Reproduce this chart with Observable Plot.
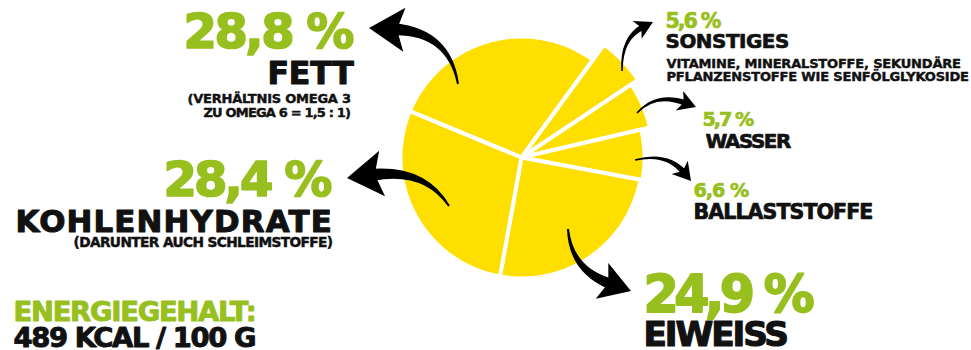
<!DOCTYPE html>
<html>
<head>
<meta charset="utf-8">
<script src="https://cdn.jsdelivr.net/npm/d3@7"></script>
<script src="https://cdn.jsdelivr.net/npm/@observablehq/plot@0.6"></script>
<style>
  html, body { margin: 0; padding: 0; background: #ffffff; }
  #chart svg { display: block; }
</style>
</head>
<body>
<div id="chart"></div>
<script>
// ---------- DATA ----------
const categories   = ["Fett", "Sonstiges", "Wasser", "Ballaststoffe", "Eiweiß", "Kohlenhydrate"];
const shares       = [28.8, 5.6, 5.7, 6.6, 24.9, 28.4];
const shareLabels  = ["28,8 %", "5,6 %", "5,7 %", "6,6 %", "24,9 %", "28,4 %"];
const nameLabels   = ["FETT", "SONSTIGES", "WASSER", "BALLASTSTOFFE", "EIWEISS", "KOHLENHYDRATE"];
const noteLabels   = [
  ["(VERHÄLTNIS OMEGA 3", "ZU OMEGA 6 = 1,5 : 1)"],
  ["VITAMINE, MINERALSTOFFE, SEKUNDÄRE", "PFLANZENSTOFFE WIE SENFÖLGLYKOSIDE"],
  [], [], [],
  ["(DARUNTER AUCH SCHLEIMSTOFFE)"]
];
const energyLabels = ["ENERGIEGEHALT:", "489 KCAL / 100 G"];

// ---------- LAYOUT / STYLE ----------
const W = 971, H = 350;
const YELLOW = "#FFDF00", GREEN = "#97BF1E", INK = "#111111";
const FONT = "'DejaVu Sans', sans-serif";
const CAP = 0.729; // cap-height ratio of DejaVu Sans
const pieCenter = {x: 521, y: 157};
const startDeg = -67.5;
const sliceRadius = [119, 138, 130, 121, 119, 119];
const gap = 4;

// [left x, baseline y, cap height, ink width] per text line
const shareLayout = [[183, 47, 35, 169], [665, 27, 15, 55], [702, 125, 14, 51], [693, 196, 14, 55], [643, 311, 37, 169], [163, 195, 35, 167]];
const nameLayout  = [[267, 83, 23, 85], [665, 47, 14.5, 123], [705, 147, 14.5, 85], [693, 218, 15, 179], [643, 345, 25, 144], [15, 231, 22.5, 315]];
const noteLayout  = [
  [[187, 102.5, 9.5, 163], [203, 116, 9.5, 147]],
  [[666, 67, 9.5, 294], [666, 80, 9.5, 302]],
  [], [], [],
  [[73, 246, 10, 259]]
];
const energyLayout = [[13, 320, 20, 242], [13, 346, 20, 242]];

// arrows: tail, control, tip, tail width, body width at head, head length, head width
const arrows = [
  {x0: 458, y0: 84, cx: 449, cy: 32, x1: 369, y1: 28, w0: 2, w1: 12, hl: 30, hw: 44},
  {x0: 449, y0: 206, cx: 425, cy: 168, x1: 347, y1: 178, w0: 2, w1: 12, hl: 30, hw: 46},
  {x0: 568, y0: 229, cx: 571, cy: 270, x1: 631, y1: 291, w0: 2, w1: 11, hl: 26, hw: 38},
  {x0: 622, y0: 71, cx: 621, cy: 38, x1: 653, y1: 22, w0: 1.5, w1: 6, hl: 15, hw: 20},
  {x0: 637, y0: 113, cx: 656, cy: 92, x1: 696, y1: 107, w0: 1.5, w1: 6, hl: 15, hw: 21},
  {x0: 635, y0: 160, cx: 667, cy: 152, x1: 691, y1: 181, w0: 1.5, w1: 6, hl: 15, hw: 21}
];

// ---------- BUILD TABLES ----------
const arcs = d3.pie().sort(null).value(d => d)
  .startAngle(startDeg * Math.PI / 180)
  .endAngle((startDeg + 360) * Math.PI / 180)(shares);

const slicePoints = [];
arcs.forEach((a, i) => {
  const r = sliceRadius[i] + gap / 2;
  const pt = ang => ({slice: categories[i], x: pieCenter.x + r * Math.sin(ang), y: pieCenter.y - r * Math.cos(ang)});
  slicePoints.push({slice: categories[i], x: pieCenter.x, y: pieCenter.y});
  const n = Math.max(8, Math.ceil((a.endAngle - a.startAngle) / (Math.PI / 180)));
  for (let k = 0; k <= n; k++) slicePoints.push(pt(a.startAngle + (a.endAngle - a.startAngle) * k / n));
  slicePoints.push({slice: categories[i], x: pieCenter.x, y: pieCenter.y});
});

const lines = [];
const addLine = (text, lay, color) => lines.push({text, x: lay[0], y: lay[1], size: lay[2] / CAP, width: lay[3], color});
categories.forEach((c, i) => {
  addLine(shareLabels[i], shareLayout[i], GREEN);
  addLine(nameLabels[i], nameLayout[i], INK);
  noteLabels[i].forEach((t, j) => addLine(t, noteLayout[i][j], INK));
});
addLine(energyLabels[0], energyLayout[0], GREEN);
addLine(energyLabels[1], energyLayout[1], INK);

// ---------- ARROW MARK (drawn through the plot's scales) ----------
function arrowMark(index, scales) {
  const g = document.createElementNS("http://www.w3.org/2000/svg", "g");
  g.setAttribute("aria-label", "arrows");
  const X = scales.x, Y = scales.y;
  const norm = (dx, dy) => { const l = Math.hypot(dx, dy) || 1; return [dx / l, dy / l]; };
  for (const a of arrows) {
    const P0 = [X(a.x0), Y(a.y0)], C = [X(a.cx), Y(a.cy)], T = [X(a.x1), Y(a.y1)];
    const td = norm(T[0] - C[0], T[1] - C[1]);
    const B = [T[0] - td[0] * a.hl, T[1] - td[1] * a.hl];
    const tB = norm(B[0] - C[0], B[1] - C[1]);
    const nB = [-tB[1], tB[0]];
    const t0 = norm(C[0] - P0[0], C[1] - P0[1]);
    const n0 = [-t0[1], t0[0]];
    const nC = norm(n0[0] + nB[0], n0[1] + nB[1]);
    const wm = (a.w0 + a.w1) / 2;
    const Bx = [B[0] + tB[0] * 4, B[1] + tB[1] * 4];
    const body = `M${P0[0] + n0[0] * a.w0 / 2},${P0[1] + n0[1] * a.w0 / 2}` +
      `Q${C[0] + nC[0] * wm / 2},${C[1] + nC[1] * wm / 2} ${Bx[0] + nB[0] * a.w1 / 2},${Bx[1] + nB[1] * a.w1 / 2}` +
      `L${Bx[0] - nB[0] * a.w1 / 2},${Bx[1] - nB[1] * a.w1 / 2}` +
      `Q${C[0] - nC[0] * wm / 2},${C[1] - nC[1] * wm / 2} ${P0[0] - n0[0] * a.w0 / 2},${P0[1] - n0[1] * a.w0 / 2}Z`;
    const nT = [-td[1], td[0]];
    const barb = a.hl * 0.18;
    const c1 = [B[0] - td[0] * barb + nT[0] * a.hw / 2, B[1] - td[1] * barb + nT[1] * a.hw / 2];
    const c2 = [B[0] - td[0] * barb - nT[0] * a.hw / 2, B[1] - td[1] * barb - nT[1] * a.hw / 2];
    const head = `M${T[0]},${T[1]}L${c1[0]},${c1[1]}L${B[0] + td[0] * 2},${B[1] + td[1] * 2}L${c2[0]},${c2[1]}Z`;
    for (const d of [body, head]) {
      const p = document.createElementNS("http://www.w3.org/2000/svg", "path");
      p.setAttribute("d", d);
      p.setAttribute("fill", "#000");
      g.appendChild(p);
    }
  }
  return g;
}

// ---------- PLOT ----------
const chart = Plot.plot({
  width: W, height: H,
  margin: 0,
  x: {domain: [0, W], range: [0, W], axis: null},
  y: {domain: [0, H], range: [0, H], axis: null},
  style: {background: "#ffffff", fontFamily: FONT},
  marks: [
    Plot.line(slicePoints, {x: "x", y: "y", z: "slice", fill: YELLOW, stroke: "#ffffff", strokeWidth: gap, strokeLinejoin: "round", curve: "linear"}),
    arrowMark,
    Plot.text(lines, {
      x: "x", y: "y", text: "text", fill: "color", stroke: "color",
      strokeWidth: d => d.size * 0.035, strokeLinejoin: "round",
      fontSize: "size", textAnchor: "start", lineAnchor: "bottom", fontWeight: "bold", fontFamily: FONT
    })
  ]
});

// fit each label line to the width it has in the reference
const texts = chart.querySelectorAll('g[aria-label="text"] text');
texts.forEach((t, i) => {
  const L = lines[i];
  if (!L) return;
  t.setAttribute("textLength", L.width + L.size * 0.04);
  t.setAttribute("lengthAdjust", "spacing");
});

document.getElementById("chart").appendChild(chart);
</script>
</body>
</html>
